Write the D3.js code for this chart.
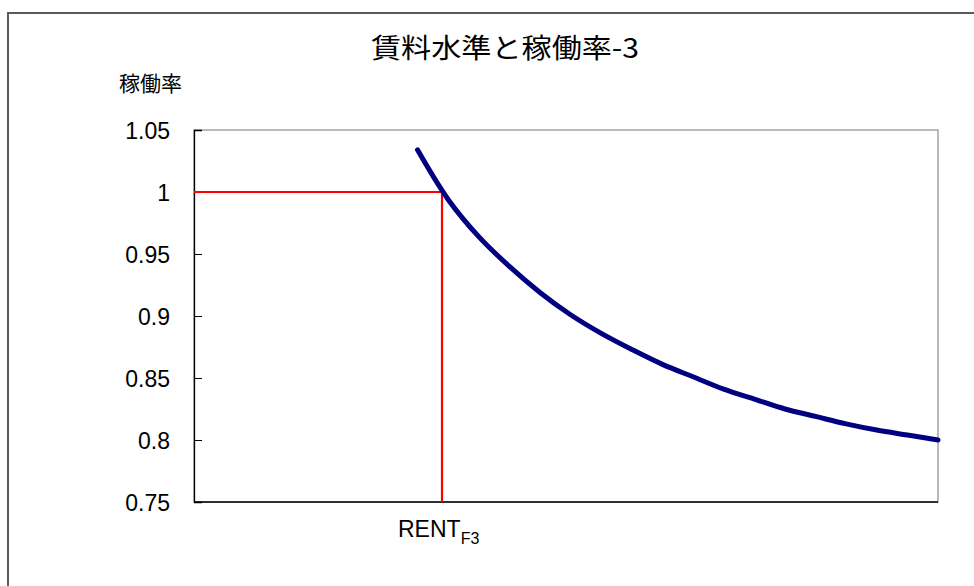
<!DOCTYPE html>
<html><head><meta charset="utf-8">
<script src="https://cdn.jsdelivr.net/npm/d3@7"></script>
<style>
body{margin:0;background:#fff;}
svg{display:block;}
</style></head>
<body>
<svg id="chart" width="974" height="586"></svg>
<script>
const titleText = "賃料水準と稼働率-3";
const yAxisTitle = "稼働率";
const yTicks = [0.75, 0.8, 0.85, 0.9, 0.95, 1, 1.05];
const yTickLabels = ["0.75", "0.8", "0.85", "0.9", "0.95", "1", "1.05"];
const rent = [7.3, 8.3, 9.3, 10.3, 11.3, 12.3, 13.3, 14.3, 15.3, 16.3, 17.3, 18.3, 19.3, 20.3, 21.3, 22.3, 23.3, 24.3];
const occupancy = [1.034, 0.994, 0.964, 0.940, 0.919, 0.901, 0.886, 0.873, 0.861, 0.851, 0.841, 0.833, 0.825, 0.819, 0.813, 0.808, 0.804, 0.800];
const rentF3 = 8.1;
const rentF3Occupancy = 1.0;
const xDomain = [0, 24.3];
const yDomain = [0.75, 1.05];

const svg = d3.select("#chart");
const L = 194, R = 938, T = 130, B = 502;
const x = d3.scaleLinear().domain(xDomain).range([L, R]);
const y = d3.scaleLinear().domain(yDomain).range([B, T]);

// outer chart border
svg.append("rect").attr("x", 8).attr("y", 13).attr("width", 980).attr("height", 600)
  .attr("fill", "#fff").attr("stroke", "#5a5a5a").attr("stroke-width", 2);

// plot area border (gray)
svg.append("rect").attr("x", L).attr("y", T).attr("width", R - L).attr("height", B - T)
  .attr("fill", "none").attr("stroke", "#8c8c8c").attr("stroke-width", 1.2);

// title
svg.append("text").attr("x", 505).attr("y", 58).attr("text-anchor", "middle")
  .attr("font-family", "'Noto Sans CJK JP', sans-serif").attr("font-size", 27)
  .attr("textLength", 268).attr("lengthAdjust", "spacingAndGlyphs")
  .attr("fill", "#000").text(titleText);

// y axis title
svg.append("text").attr("x", 119).attr("y", 91)
  .attr("font-family", "'Noto Sans CJK JP', sans-serif").attr("font-size", 21)
  .attr("fill", "#000").text(yAxisTitle);

// y axis with inward ticks
const yAxis = d3.axisRight(y).tickValues(yTicks).tickSize(8)
  .tickFormat((d, i) => yTickLabels[i]);
const gy = svg.append("g").attr("transform", `translate(${L},0)`).call(yAxis);
gy.select(".domain").attr("stroke", "#000").attr("stroke-width", 1.3);
gy.selectAll(".tick line").attr("stroke", "#000").attr("stroke-width", 1);
gy.selectAll(".tick text").attr("x", -24).attr("text-anchor", "end").attr("dy", "0.35em")
  .attr("font-family", "'Liberation Sans', Arial, sans-serif").attr("font-size", 23).attr("fill", "#000");

// x axis line (black)
svg.append("line").attr("x1", L).attr("x2", R).attr("y1", B).attr("y2", B)
  .attr("stroke", "#000").attr("stroke-width", 1.5);

// red reference lines
svg.append("path")
  .attr("d", `M${x(xDomain[0])},${y(rentF3Occupancy)}H${x(rentF3)}V${y(yDomain[0])}`)
  .attr("fill", "none").attr("stroke", "#ff0000").attr("stroke-width", 2.2);

// curve
const line = d3.line().x((d, i) => x(rent[i])).y(d => y(d)).curve(d3.curveCatmullRom.alpha(0.5));
svg.append("path").datum(occupancy).attr("d", line)
  .attr("fill", "none").attr("stroke", "#000080").attr("stroke-width", 5)
  .attr("stroke-linecap", "round").attr("stroke-linejoin", "round");

// RENT_F3 label
const lab = svg.append("text").attr("x", 398).attr("y", 537)
  .attr("font-family", "'Liberation Sans', Arial, sans-serif").attr("font-size", 23).attr("fill", "#000");
lab.append("tspan").text("RENT");
lab.append("tspan").attr("font-size", 16).attr("dy", 7).text("F3");
</script>
</body></html>
